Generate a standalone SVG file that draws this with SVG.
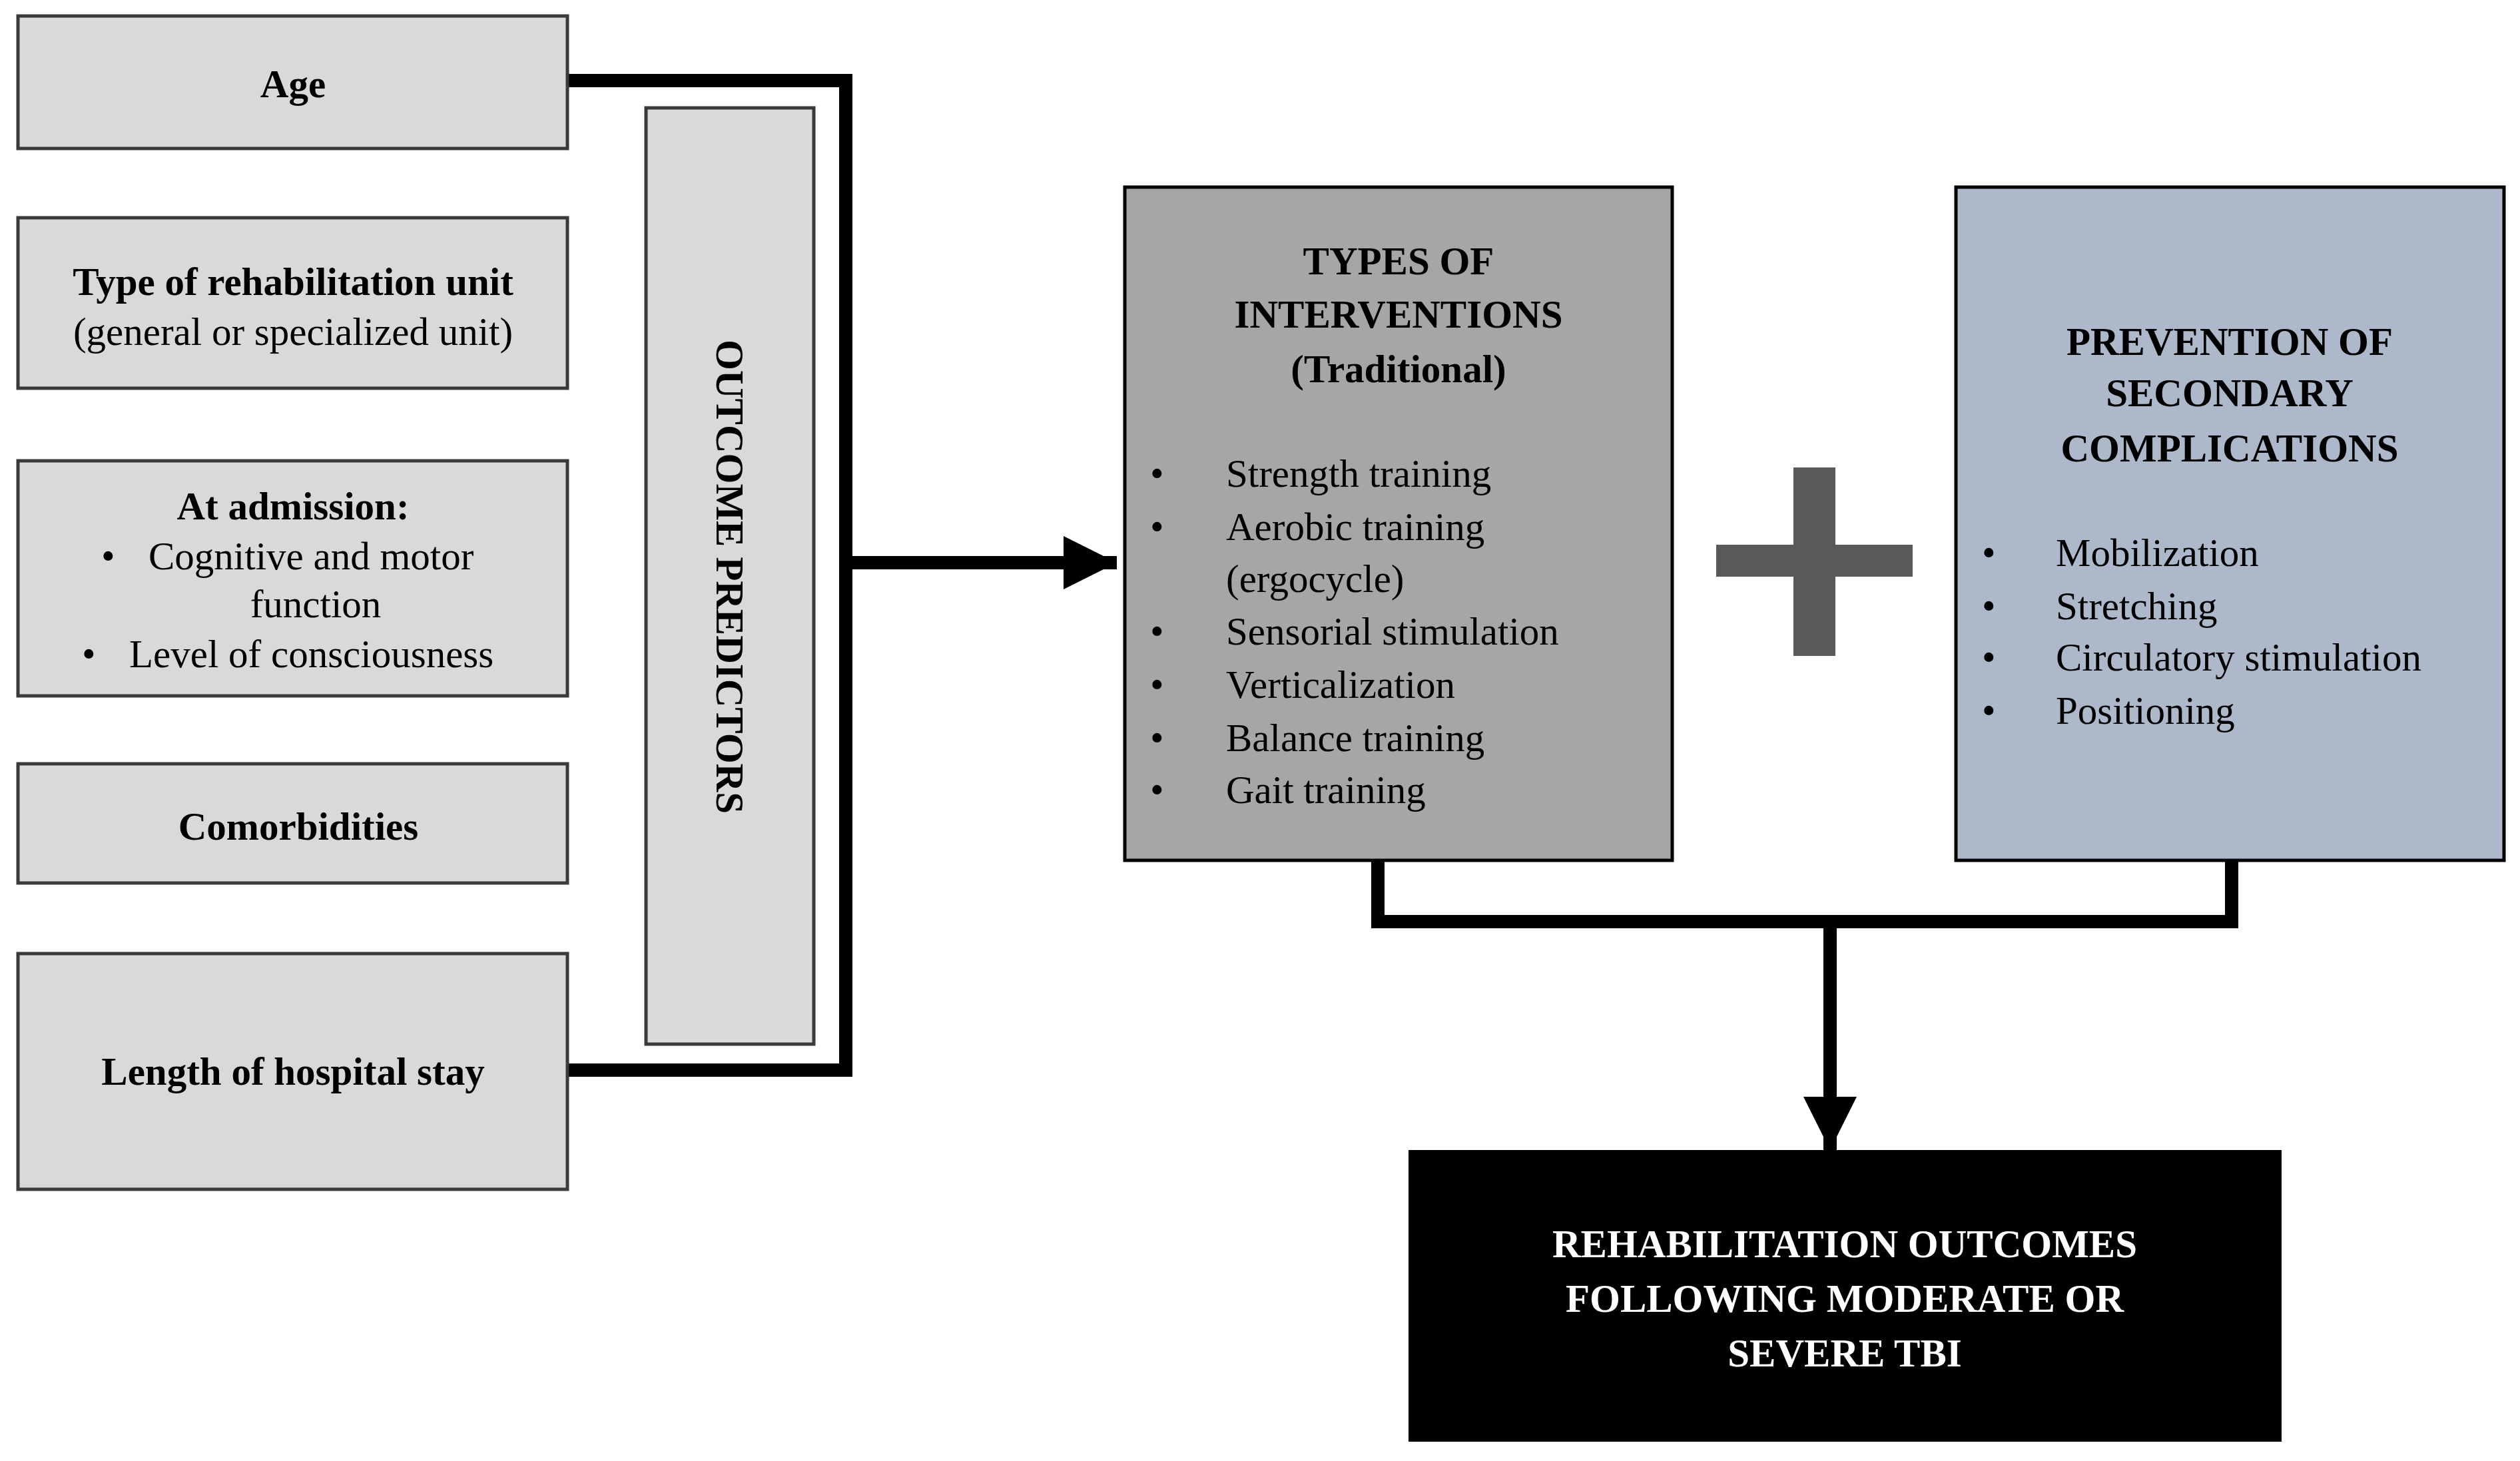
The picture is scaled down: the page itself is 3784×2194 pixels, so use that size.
<svg xmlns="http://www.w3.org/2000/svg" width="3784" height="2194" viewBox="0 0 3784 2194">
<defs>
<style>
.b{fill:#d9d9d9;stroke:#3a3a3a;stroke-width:5}
.t{font-family:"Liberation Serif",serif;font-size:59px;fill:#000}
.bd{font-weight:bold}
.c{text-anchor:middle}
.w{fill:#fff}
.ln{fill:none;stroke:#000;stroke-width:20}
</style>
<marker id="ah" markerUnits="userSpaceOnUse" markerWidth="90" markerHeight="90" refX="80" refY="45" orient="auto"><path d="M0,5 L80,45 L0,85 Z" fill="#000"/></marker>
</defs>
<rect width="3784" height="2194" fill="#fff"/>
<g id="connectors">
<path class="ln" d="M852,121 H1270 V1607 H852"/>
<line class="ln" x1="1270" y1="845" x2="1677" y2="845" marker-end="url(#ah)"/>
<path class="ln" d="M2069,1292 V1384 H3351 V1292"/>
<line class="ln" x1="2748" y1="1384" x2="2748" y2="1727" marker-end="url(#ah)"/>
</g>
<g id="age"><rect class="b" x="27" y="24" width="825" height="199"/><text class="t bd c" x="440" y="146">Age</text></g>
<g id="unit"><rect class="b" x="27" y="327" width="825" height="256"/><text class="t bd c" x="440" y="443">Type of rehabilitation unit</text><text class="t c" x="440" y="518">(general or specialized unit)</text></g>
<g id="admission"><rect class="b" x="27" y="692" width="825" height="353"/><text class="t bd c" x="440" y="780">At admission:</text><text class="t" x="152" y="855">•</text><text class="t" x="223" y="855">Cognitive and motor</text><text class="t c" x="474" y="927">function</text><text class="t" x="123" y="1002">•</text><text class="t" x="194" y="1002">Level of consciousness</text></g>
<g id="comorb"><rect class="b" x="27" y="1147" width="825" height="179"/><text class="t bd c" x="448" y="1261">Comorbidities</text></g>
<g id="stay"><rect class="b" x="27" y="1432" width="825" height="354"/><text class="t bd c" x="440" y="1629">Length of hospital stay</text></g>
<g id="predictors"><rect class="b" x="970" y="162" width="252" height="1406"/><text class="t bd c" transform="translate(1076,866) rotate(90)">OUTCOME PREDICTORS</text></g>
<g id="types"><rect x="1689" y="281" width="822" height="1011" fill="#a6a6a6" stroke="#000" stroke-width="5"/>
<text class="t bd c" x="2100" y="412">TYPES OF</text><text class="t bd c" x="2100" y="492">INTERVENTIONS</text><text class="t bd c" x="2100" y="574">(Traditional)</text>
<g class="t"><text x="1727" y="731">•</text><text x="1841" y="731">Strength training</text><text x="1727" y="811">•</text><text x="1841" y="811">Aerobic training</text><text x="1841" y="889">(ergocycle)</text><text x="1727" y="968">•</text><text x="1841" y="968">Sensorial stimulation</text><text x="1727" y="1048">•</text><text x="1841" y="1048">Verticalization</text><text x="1727" y="1128">•</text><text x="1841" y="1128">Balance training</text><text x="1727" y="1206">•</text><text x="1841" y="1206">Gait training</text></g></g>
<g id="plus"><rect x="2577" y="818" width="295" height="48" fill="#595959"/><rect x="2693" y="702" width="63" height="283" fill="#595959"/></g>
<g id="prevention"><rect x="2937" y="281" width="823" height="1011" fill="#adb9ca" stroke="#000" stroke-width="5"/>
<text class="t bd c" x="3348" y="533">PREVENTION OF</text><text class="t bd c" x="3348" y="610">SECONDARY</text><text class="t bd c" x="3348" y="693">COMPLICATIONS</text>
<g class="t"><text x="2976" y="850">•</text><text x="3087" y="850">Mobilization</text><text x="2976" y="930">•</text><text x="3087" y="930">Stretching</text><text x="2976" y="1007">•</text><text x="3087" y="1007">Circulatory stimulation</text><text x="2976" y="1087">•</text><text x="3087" y="1087">Positioning</text></g></g>
<g id="outcomes"><rect x="2115" y="1727" width="1311" height="438" fill="#000"/>
<text class="t bd c w" x="2770" y="1888">REHABILITATION OUTCOMES</text><text class="t bd c w" x="2770" y="1970">FOLLOWING MODERATE OR</text><text class="t bd c w" x="2770" y="2052">SEVERE TBI</text></g>
</svg>
